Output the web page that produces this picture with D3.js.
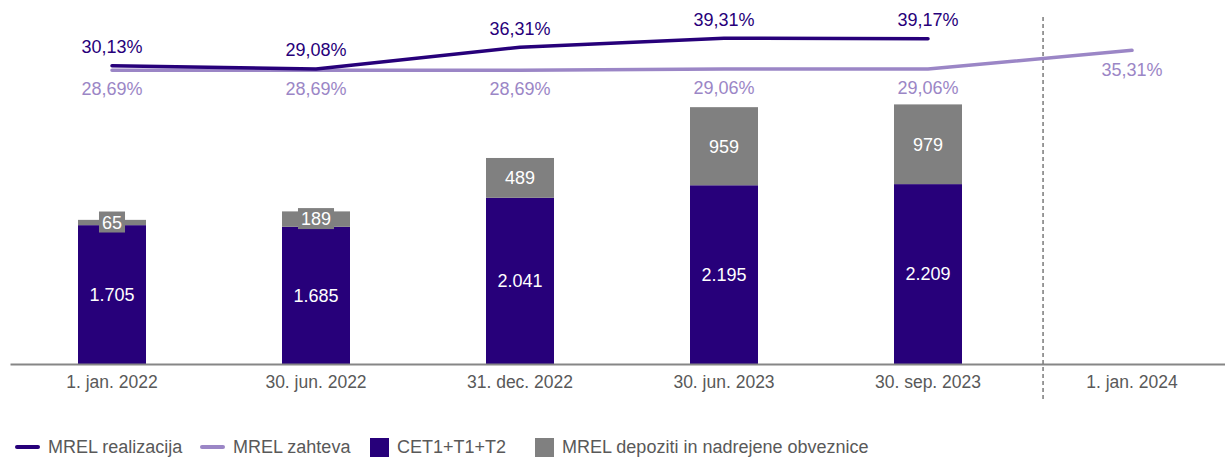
<!DOCTYPE html>
<html>
<head>
<meta charset="utf-8">
<script src="https://cdn.jsdelivr.net/npm/d3@7"></script>
<style>
  body { margin: 0; background: #fff; }
  text { font-family: "Liberation Sans", Arial, sans-serif; }
</style>
</head>
<body>
<div id="chart"></div>
<script>
// data
var categories = ["1. jan. 2022", "30. jun. 2022", "31. dec. 2022", "30. jun. 2023", "30. sep. 2023", "1. jan. 2024"];
var cet = [1705, 1685, 2041, 2195, 2209, null];            // CET1+T1+T2
var mrelDep = [65, 189, 489, 959, 979, null];              // MREL depoziti in nadrejene obveznice
var realizacija = [30.13, 29.08, 36.31, 39.31, 39.17, null];
var zahteva = [28.69, 28.69, 28.69, 29.06, 29.06, 35.31];
var legendNames = ["MREL realizacija", "MREL zahteva", "CET1+T1+T2", "MREL depoziti in nadrejene obveznice"];

var colDark = "#27007a", colLight = "#9b86c6", colGray = "#808080";
var width = 1225, height = 457;

// slovenian number format
var sl = d3.formatLocale({decimal: ",", thousands: ".", grouping: [3], currency: ["", " €"]});
var fmtInt = sl.format(",");
var fmtPct = function(v) { return sl.format(",.2f")(v) + "%"; };

var svg = d3.select("#chart").append("svg")
  .attr("width", width)
  .attr("height", height);

var x = d3.scaleBand()
  .domain(categories)
  .range([10, 1234]);
var bw = x.bandwidth() / 3;
var cx = function(c) { return x(c) + x.bandwidth() / 2; };

// bars (left axis, hidden)
var yBar = d3.scaleLinear().domain([0, 4470]).range([364, 0]);
// lines (right axis, hidden)
var yLine = d3.scaleLinear().domain([0, 40]).range([156.2, 36.2]);

var rows = categories.map(function(c, i) {
  return {cat: c, cet: cet[i], dep: mrelDep[i], real: realizacija[i], zah: zahteva[i]};
});
var barRows = rows.filter(function(d) { return d.cet != null; });

// stacked bars
svg.append("g").selectAll("rect.cet")
  .data(barRows)
  .enter().append("rect")
    .attr("x", function(d) { return cx(d.cat) - bw / 2; })
    .attr("y", function(d) { return yBar(d.cet); })
    .attr("width", bw)
    .attr("height", function(d) { return yBar(0) - yBar(d.cet); })
    .attr("fill", colDark);

svg.append("g").selectAll("rect.dep")
  .data(barRows)
  .enter().append("rect")
    .attr("x", function(d) { return cx(d.cat) - bw / 2; })
    .attr("y", function(d) { return yBar(d.cet + d.dep); })
    .attr("width", bw)
    .attr("height", function(d) { return yBar(d.cet) - yBar(d.cet + d.dep); })
    .attr("fill", colGray);

// bar labels
svg.append("g").selectAll("text")
  .data(barRows)
  .enter().append("text")
    .attr("x", function(d) { return cx(d.cat); })
    .attr("y", function(d) { return (yBar(0) + yBar(d.cet)) / 2; })
    .attr("dy", "0.35em")
    .attr("text-anchor", "middle")
    .attr("fill", "#fff")
    .style("font-size", "18px")
    .text(function(d) { return fmtInt(d.cet); });

var depLab = svg.append("g").selectAll("g")
  .data(barRows)
  .enter().append("g")
    .attr("transform", function(d) {
      return "translate(" + cx(d.cat) + "," + (yBar(d.cet) + yBar(d.cet + d.dep)) / 2 + ")";
    });
depLab.append("rect").attr("fill", colGray);
depLab.append("text")
  .attr("dy", "0.35em")
  .attr("text-anchor", "middle")
  .attr("fill", "#fff")
  .style("font-size", "18px")
  .text(function(d) { return fmtInt(d.dep); });
depLab.each(function() {
  var g = d3.select(this);
  var w = g.select("text").node().getComputedTextLength();
  g.select("rect").attr("x", -w / 2 - 3).attr("y", -11).attr("width", w + 6).attr("height", 21);
});

// x axis
var xAxis = svg.append("g")
  .attr("transform", "translate(0," + yBar(0) + ")")
  .call(d3.axisBottom(x).tickSize(0).tickPadding(12));
xAxis.select(".domain").attr("stroke", "#868686").attr("stroke-width", 2);
xAxis.selectAll("text")
  .attr("fill", "#595959")
  .style("font-size", "17.5px")
  .style("font-family", "'Liberation Sans', Arial, sans-serif");

// separator before the forecast column
var sepX = cx(categories[5]) - x.bandwidth() * 0.436;
svg.append("line")
  .attr("x1", sepX).attr("x2", sepX)
  .attr("y1", 17).attr("y2", 400)
  .attr("stroke", "#7a7a7a")
  .attr("stroke-width", 1.5)
  .attr("stroke-dasharray", "4,3");

// lines
var line = function(key) {
  return d3.line()
    .defined(function(d) { return d[key] != null; })
    .x(function(d) { return cx(d.cat); })
    .y(function(d) { return yLine(d[key]); });
};
svg.append("path")
  .datum(rows)
  .attr("d", line("zah"))
  .attr("fill", "none")
  .attr("stroke", colLight)
  .attr("stroke-width", 3.5)
  .attr("stroke-linecap", "round")
  .attr("stroke-linejoin", "round");
svg.append("path")
  .datum(rows)
  .attr("d", line("real"))
  .attr("fill", "none")
  .attr("stroke", colDark)
  .attr("stroke-width", 3.5)
  .attr("stroke-linecap", "round")
  .attr("stroke-linejoin", "round");

// line labels
svg.append("g").selectAll("text")
  .data(rows.filter(function(d) { return d.real != null; }))
  .enter().append("text")
    .attr("x", function(d) { return cx(d.cat); })
    .attr("y", function(d) { return yLine(d.real) - 19; })
    .attr("dy", "0.35em")
    .attr("text-anchor", "middle")
    .attr("fill", colDark)
    .style("font-size", "18px")
    .text(function(d) { return fmtPct(d.real); });
svg.append("g").selectAll("text")
  .data(rows)
  .enter().append("text")
    .attr("x", function(d) { return cx(d.cat); })
    .attr("y", function(d) { return yLine(d.zah) + 19; })
    .attr("dy", "0.35em")
    .attr("text-anchor", "middle")
    .attr("fill", colLight)
    .style("font-size", "18px")
    .text(function(d) { return fmtPct(d.zah); });

// legend, item starts as in the original
var legendX = [15, 200, 370, 535];
var legend = svg.append("g").attr("transform", "translate(0,447)");
legendNames.forEach(function(name, i) {
  var item = legend.append("g").attr("transform", "translate(" + legendX[i] + ",0)");
  var mw;
  if (i < 2) {
    item.append("line")
      .attr("x1", 2).attr("x2", 23)
      .attr("stroke", i == 0 ? colDark : colLight)
      .attr("stroke-width", 4)
      .attr("stroke-linecap", "round");
    mw = 25;
  } else {
    item.append("rect")
      .attr("x", 0).attr("y", -9)
      .attr("width", 19).attr("height", 19)
      .attr("fill", i == 2 ? colDark : colGray);
    mw = 19;
  }
  item.append("text")
    .attr("x", mw + 8)
    .attr("dy", "0.35em")
    .attr("fill", "#595959")
    .style("font-size", "18px")
    .text(name);
});
</script>
</body>
</html>
